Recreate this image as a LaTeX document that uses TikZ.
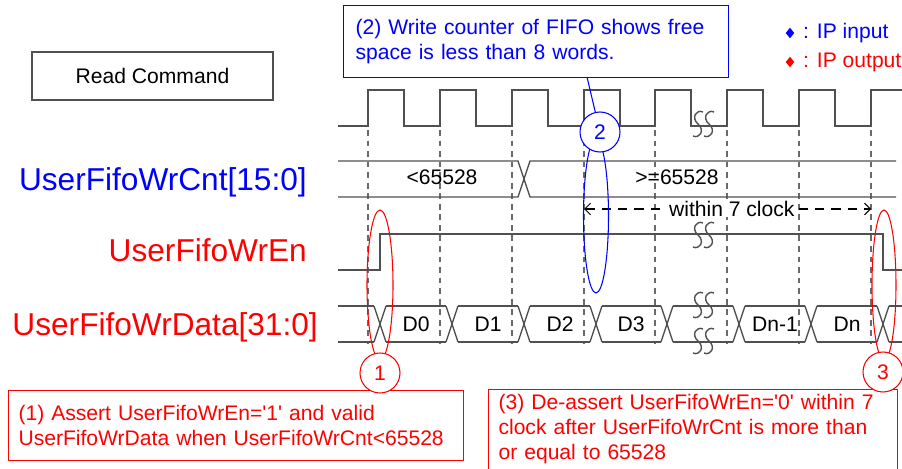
\documentclass[tikz,border=0pt]{standalone}
\usepackage{fontspec}
\setmainfont{Liberation Sans}
\usetikzlibrary{arrows.meta,shapes.geometric}

\definecolor{wavegray}{HTML}{505050}
\definecolor{ipblue}{HTML}{0000FF}
\definecolor{ipred}{HTML}{FF0000}

\tikzset{
    wave/.style={draw=wavegray, line width=1.1pt},
    gridline/.style={draw=wavegray!85, line width=0.9pt, dash pattern=on 5pt off 4pt},
    txt/.style={font=\fontsize{18}{21.3}\selectfont, inner sep=0pt},
    signame/.style={font=\fontsize{27}{32}\selectfont, anchor=base east, inner sep=0pt},
    tagcircle/.style={circle, draw, fill=white, line width=0.9pt, minimum size=12mm, inner sep=0pt, font=\fontsize{18}{21.3}\selectfont},
    ring/.style={ellipse, draw, line width=0.9pt, inner sep=0pt},
    notebox/.style={draw, line width=0.9pt, align=left, font=\fontsize{18}{21.3}\selectfont, anchor=north west},
    arrowline/.style={draw=black, line width=0.9pt, dash pattern=on 8pt off 6pt, {Straight Barb[length=5pt,width=10pt]}-{Straight Barb[length=5pt,width=10pt]}},
    brk/.pic={
        \draw[wave, line width=1.2pt] (5,-12) .. controls (-2,-15) and (-7,-6) .. (0,0) .. controls (7,6) and (2,15) .. (-5,12);
        \draw[wave, line width=1.2pt] (16,-12) .. controls (9,-15) and (4,-6) .. (11,0) .. controls (18,6) and (13,15) .. (6,12);
    }
}

\begin{document}
\begin{tikzpicture}[x=0.3mm, y=-0.3mm]
    \useasboundingbox (0,0) rectangle (902,469);
    \clip (0,0) rectangle (902,469);

    \node[notebox, draw=wavegray, anchor=center, align=center, minimum width=72.3mm, minimum height=14.4mm, inner sep=0pt] (readcmd) at (152.5,76) {Read Command};

    \node[signame, text=ipblue] (cntname) at (307,190) {UserFifoWrCnt[15:0]};
    \node[signame, text=ipred] (enname) at (307,261) {UserFifoWrEn};
    \node[signame, text=ipred] (dataname) at (318,335) {UserFifoWrData[31:0]};

    \foreach \e in {368,440,512,584,655,727,799,871}
        \draw[gridline] (\e,130) -- (\e,344);

    \draw[wave] (338,126) foreach \e in {368,440,512,584,655,727,799,871} { -- (\e,126) -- (\e,90) -- (\e+36,90) -- (\e+36,126) };
    \pic at (698,124) {brk};

    \draw[wave] (338,161) -- (518,161) -- (530,197) -- (896,197);
    \draw[wave] (338,197) -- (518,197) -- (530,161) -- (896,161);
    \node[txt] (cntlow) at (442,177) {<65528};
    \node[txt] (cnthigh) at (677,177) {>=65528};

    \coordinate (winL) at (584,209);
    \coordinate (winR) at (871,209);
    \draw[arrowline] (winL) -- node[txt, fill=white, inner xsep=2pt, pos=0.515] (wintxt) {within 7 clock} (winR);

    \draw[wave] (338,270) -- (380,270) -- (380,234) -- (883,234) -- (883,270) -- (902,270);
    \pic at (698,235) {brk};

    \foreach \a/\b in {338/374, 386/446, 458/518, 530/590, 602/661, 673/733, 745/805, 817/877, 889/905}
        \draw[wave] (\a,306) -- (\b,306) (\a,342) -- (\b,342);
    \foreach \e in {374,446,518,590,661,733,805,877}
        \draw[wave] (\e,306) -- ++(12,36) (\e,342) -- ++(12,-36);
    \pic at (698,305) {brk};
    \pic at (698,341) {brk};
    \node[txt] (d0) at (416,324) {D0};
    \node[txt] (d1) at (488,324) {D1};
    \node[txt] (d2) at (560,324) {D2};
    \node[txt] (d3) at (631,324) {D3};
    \node[txt] (dn1) at (775,324) {Dn-1};
    \node[txt] (dn) at (847,324) {Dn};

    \node[diamond, fill=ipblue, minimum width=2.6mm, minimum height=3.2mm, inner sep=0pt] (keyin) at (790,33) {};
    \node[txt, text=ipblue, anchor=west] (keyintxt) at (803,33) {: IP input};
    \node[diamond, fill=ipred, minimum width=2.6mm, minimum height=3.2mm, inner sep=0pt] (keyout) at (790,62) {};
    \node[txt, text=ipred, anchor=west] (keyouttxt) at (803,62) {: IP output};

    \node[ring, draw=ipred, minimum width=7.8mm, minimum height=45mm] (ell1) at (380,285) {};
    \node[ring, draw=ipblue, minimum width=7.5mm, minimum height=46.2mm] (ell2) at (596,216) {};
    \node[ring, draw=ipred, minimum width=7.2mm, minimum height=45mm] (ell3) at (884,285) {};

    \node[notebox, draw=ipblue, text=ipblue, text width=108.3mm, inner xsep=3.6mm, inner ysep=0pt, minimum height=21.6mm] (note2) at (343,5) {(2) Write counter of FIFO shows free\\space is less than 8 words.};
    \node[notebox, draw=ipred, text=ipred, text width=130.5mm, inner xsep=3mm, inner ysep=0pt, minimum height=21mm] (note1) at (8,390) {(1) Assert UserFifoWrEn=\textquotesingle1\textquotesingle{} and valid\\UserFifoWrData when UserFifoWrCnt<65528};
    \node[notebox, draw=ipred, text=ipred, text width=116.7mm, inner xsep=3mm, inner ysep=1.5mm, text depth=25mm] (note3) at (488,389) {(3) De-assert UserFifoWrEn=\textquotesingle0\textquotesingle{} within 7\\clock after UserFifoWrCnt is more than\\or equal to 65528};

    \node[tagcircle, draw=ipblue, text=ipblue] (tag2) at (600,132) {2};
    \node[tagcircle, draw=ipred, text=ipred] (tag1) at (380,373) {1};
    \node[tagcircle, draw=ipred, text=ipred] (tag3) at (883,372) {3};

    \coordinate (note2tail) at (587,77);
    \draw[ipblue, line width=0.9pt] (note2tail) -- (tag2);
\end{tikzpicture}
\end{document}
